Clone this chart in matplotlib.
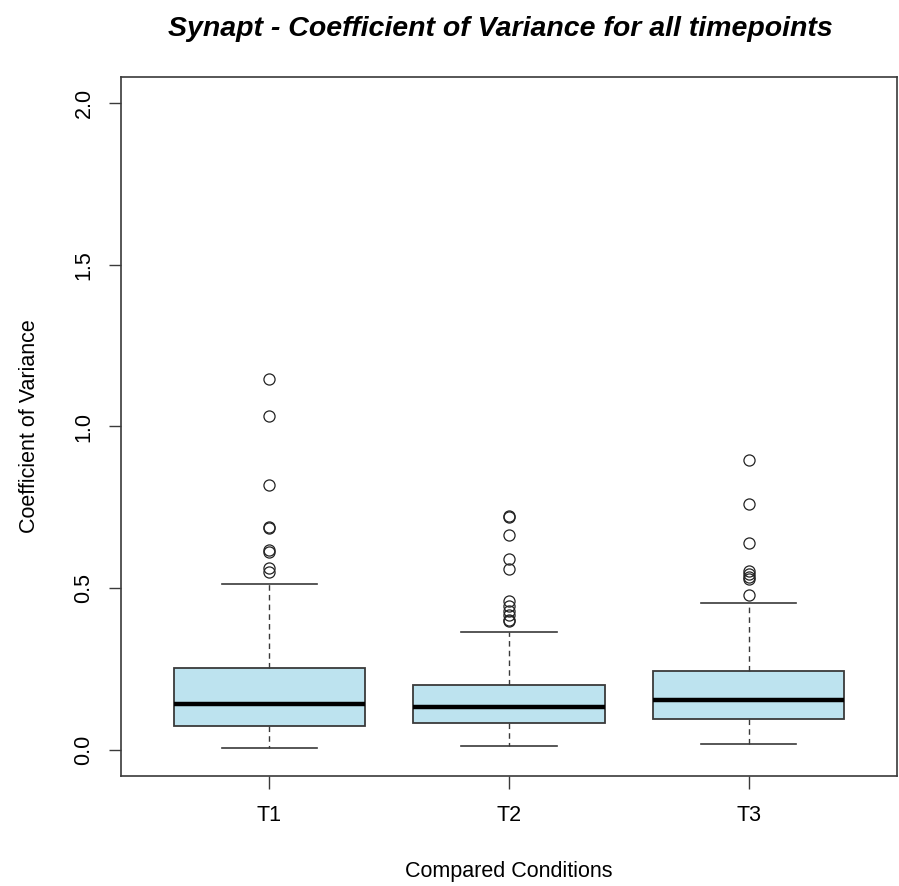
import matplotlib
matplotlib.use("Agg")
import matplotlib.pyplot as plt

plt.rcParams['font.family'] = ['Liberation Sans', 'DejaVu Sans']

# values
conditions = ["T1", "T2", "T3"]
whisker_low = [0.007, 0.013, 0.019]
q1 = [0.075, 0.084, 0.097]
medians = [0.143, 0.134, 0.155]
q3 = [0.253, 0.201, 0.243]
whisker_high = [0.514, 0.365, 0.455]
outliers_t1 = [1.147, 1.033, 0.819, 0.686, 0.690, 0.613, 0.617, 0.563, 0.550]
outliers_t2 = [0.719, 0.722, 0.665, 0.592, 0.559, 0.460, 0.444, 0.431, 0.417, 0.398, 0.401]
outliers_t3 = [0.895, 0.760, 0.641, 0.555, 0.544, 0.535, 0.530, 0.479]
outliers = [outliers_t1, outliers_t2, outliers_t3]

stats = []
for i, name in enumerate(conditions):
    stats.append({
        "label": name,
        "whislo": whisker_low[i],
        "q1": q1[i],
        "med": medians[i],
        "q3": q3[i],
        "whishi": whisker_high[i],
        "fliers": outliers[i],
    })

fig = plt.figure(figsize=(8.99, 8.86), dpi=100)
ax = fig.add_axes([121 / 899, 110 / 886, 776 / 899, 699 / 886])

edge = "#3a3a3a"
ax.bxp(stats, positions=[1, 2, 3], widths=0.8, patch_artist=True,
       boxprops=dict(facecolor="#bde3ef", edgecolor=edge, linewidth=1.3),
       medianprops=dict(color="black", linewidth=3.2, solid_capstyle="butt"),
       whiskerprops=dict(color=edge, linewidth=1.0, linestyle=(0, (4, 3))),
       capprops=dict(color=edge, linewidth=1.2),
       capwidths=0.4,
       flierprops=dict(marker="o", markerfacecolor="none", markeredgecolor="#222222",
                       markersize=8, markeredgewidth=0.9))

ax.set_xlim(0.38, 3.62)
ax.set_ylim(-0.08, 2.08)
ax.set_yticks([0.0, 0.5, 1.0, 1.5, 2.0])
ax.set_yticklabels(["0.0", "0.5", "1.0", "1.5", "2.0"], rotation=90, va="center")
ax.set_xticks([1, 2, 3])
ax.set_xticklabels(conditions)
ax.tick_params(axis="both", length=9, width=1.0, color=edge, labelsize=15.5, pad=10)
ax.tick_params(axis="x", pad=12)
for sp in ax.spines.values():
    sp.set_color(edge)
    sp.set_linewidth(1.2)

ax.set_ylabel("Coefficient of Variance", fontsize=15.5, labelpad=24)
fig.text(509 / 899, 1 - 871 / 886, "Compared Conditions", fontsize=15.5,
         ha="center", va="center")
fig.text(500 / 899, 1 - 36 / 886, "Synapt - Coefficient of Variance for all timepoints",
         fontsize=20.5, fontweight="bold", fontstyle="italic", ha="center", va="baseline")

fig.savefig("out.png", dpi=100)
